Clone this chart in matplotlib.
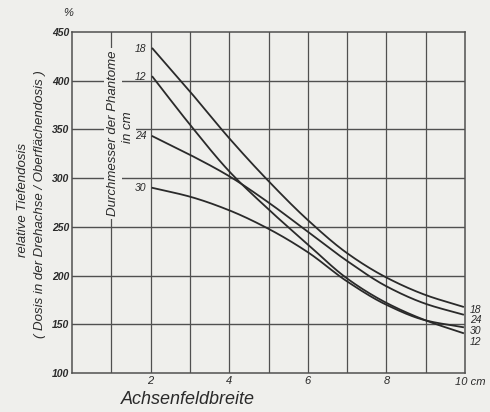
import numpy as np
import matplotlib
matplotlib.use("Agg")
import matplotlib.pyplot as plt

# Relative depth dose vs. field width (Achsenfeldbreite) for four phantom diameters
field_width = [2.05, 3, 4, 5, 6, 7, 8, 9, 9.95]
diameters = ["18", "12", "24", "30"]
dose_18 = [433, 389, 341, 297, 257, 223, 198, 180, 168]
dose_12 = [404, 355, 307, 268, 232, 197, 172, 154, 141]
dose_24 = [343, 324, 302, 275, 245, 215, 189, 171, 160]
dose_30 = [290, 281, 267, 248, 224, 194, 170, 154, 147]
series = [dose_18, dose_12, dose_24, dose_30]

y_ticks = [100, 150, 200, 250, 300, 350, 400, 450]
x_ticks = [2, 4, 6, 8]

paper = "#efefec"
ink = "#2a2a2a"
grid_c = "#505050"
FONT = "Liberation Sans"


def pchip(x, y, xs):
    """Monotone cubic Hermite curve through the given points."""
    x = np.asarray(x, float)
    y = np.asarray(y, float)
    h = np.diff(x)
    d = np.diff(y) / h
    m = np.zeros_like(y)
    for k in range(1, len(x) - 1):
        if d[k - 1] * d[k] > 0:
            w1 = 2 * h[k] + h[k - 1]
            w2 = h[k] + 2 * h[k - 1]
            m[k] = (w1 + w2) / (w1 / d[k - 1] + w2 / d[k])
    m[0] = d[0]
    m[-1] = d[-1]
    idx = np.clip(np.searchsorted(x, xs) - 1, 0, len(x) - 2)
    t = (xs - x[idx]) / h[idx]
    h00 = 2 * t**3 - 3 * t**2 + 1
    h10 = t**3 - 2 * t**2 + t
    h01 = -2 * t**3 + 3 * t**2
    h11 = t**3 - t**2
    return (h00 * y[idx] + h10 * h[idx] * m[idx]
            + h01 * y[idx + 1] + h11 * h[idx] * m[idx + 1])


W, H = 490, 412
fig = plt.figure(figsize=(W / 100, H / 100), dpi=100, facecolor=paper)
L, R, T, B = 72, 465, 32, 373
ax = fig.add_axes([L / W, 1 - B / H, (R - L) / W, (B - T) / H])
ax.set_facecolor(paper)
ax.set_xlim(0, 10)
ax.set_ylim(100, 450)

for xv in range(1, 10):
    ax.axvline(xv, color=grid_c, lw=0.9, zorder=1)
for yv in y_ticks[1:-1]:
    ax.axhline(yv, color=grid_c, lw=1.0, zorder=1)
for s in ax.spines.values():
    s.set_color(grid_c)
    s.set_linewidth(1.1)

ax.set_yticks(y_ticks)
ax.set_yticklabels([str(v) for v in y_ticks], fontsize=7.5, style="italic",
                   fontweight="bold", family=FONT, color=ink)
ax.set_xticks(x_ticks)
ax.set_xticklabels([str(v) for v in x_ticks], fontsize=8, style="italic",
                   family=FONT, color=ink)
ax.tick_params(length=0, pad=2)
ax.text(9.75, 100 - 4, "10 cm", ha="left", va="top", fontsize=8,
        style="italic", family=FONT, color=ink)

xs = np.linspace(field_width[0], field_width[-1], 300)
for vals in series:
    ax.plot(xs, pchip(field_width, vals, xs), color=ink, lw=1.3, zorder=3)

# curve labels at the start of each curve
for name, vals in zip(diameters, series):
    ax.text(field_width[0] - 0.15, vals[0], name, ha="right", va="center",
            fontsize=7.5, style="italic", family=FONT, color=ink)

# curve labels at the right edge, stacked
right_pos = {"18": 165, "24": 154, "30": 143, "12": 132}
for name, yv in right_pos.items():
    ax.text(10.12, yv, name, ha="left", va="center", fontsize=7.5,
            style="italic", family=FONT, color=ink, clip_on=False)

# legend title inside the grid
ax.text(1.05, 346, "Durchmesser der Phantome", rotation=90, ha="center",
        va="center", fontsize=9.5, style="italic", family=FONT, color=ink,
        zorder=4, bbox=dict(facecolor=paper, edgecolor="none", pad=2))
ax.text(1.43, 352, "in cm", rotation=90, ha="center", va="center",
        fontsize=9.5, style="italic", family=FONT, color=ink, zorder=4,
        bbox=dict(facecolor=paper, edgecolor="none", pad=1))

# axis titles
fig.text(68 / W, 1 - 13 / H, "%", ha="center", va="center", fontsize=8,
         style="italic", family=FONT, color=ink)
fig.text(23 / W, 1 - 200 / H, "relative Tiefendosis", rotation=90,
         ha="center", va="center", fontsize=9.5, style="italic",
         family=FONT, color=ink)
fig.text(40 / W, 1 - 204 / H,
         "( Dosis in der Drehachse / Oberflächendosis )", rotation=90,
         ha="center", va="center", fontsize=9.5, style="italic",
         family=FONT, color=ink)
fig.text(188 / W, 1 - 400 / H, "Achsenfeldbreite", ha="center",
         va="center", fontsize=13, style="italic", family=FONT, color=ink)

fig.savefig("out.png", dpi=100, facecolor=paper)
